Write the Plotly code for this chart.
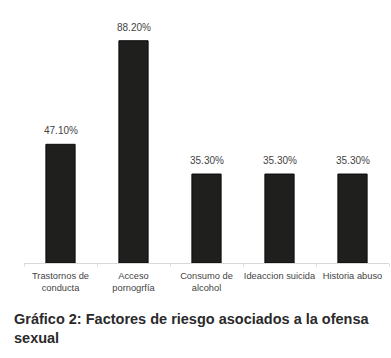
import plotly.graph_objects as go

categories = ["Trastornos de<br>conducta", "Acceso<br>pornogrfía", "Consumo de<br>alcohol",
              "Ideaccion suicida", "Historia abuso"]
values = [47.1, 88.2, 35.3, 35.3, 35.3]
value_labels = ["47.10%", "88.20%", "35.30%", "35.30%", "35.30%"]

W, H = 391, 358

fig = go.Figure()
fig.add_trace(go.Bar(
    x=categories, y=values,
    marker=dict(color="#1f1f1d", line=dict(color="#0a0a0a", width=1)),
    width=0.4,
    hoverinfo="skip",
))

for c, v, t in zip(categories, values, value_labels):
    fig.add_annotation(x=c, y=v, text=t, showarrow=False, yanchor="bottom",
                       yshift=6, font=dict(family="Liberation Sans, Arial", size=10, color="#444"))

fig.add_annotation(
    xref="paper", yref="paper", x=-12/365, y=-(328-263)/252,
    xanchor="left", yanchor="middle", align="left", showarrow=False,
    text="<b>Gráfico 2: Factores de riesgo asociados a la ofensa<br>sexual</b>",
    font=dict(family="Liberation Sans, Arial", size=14.5, color="#2a2a2a"),
)

fig.update_layout(
    width=W, height=H,
    margin=dict(l=24, r=2, t=11, b=95, autoexpand=False),
    paper_bgcolor="white", plot_bgcolor="white",
    showlegend=False,
    xaxis=dict(showline=True, linecolor="#d8d8d8", linewidth=1, automargin=False,
               tickangle=0,
               ticks="outside", tickson="boundaries", ticklen=3, tickcolor="#e0e0e0",
               ticklabelstandoff=4,
               tickfont=dict(family="Liberation Sans, Arial", size=9.3, color="#444"),
               showgrid=False),
    yaxis=dict(range=[0, 100], visible=False, showgrid=False),
)

fig.write_html("out.html", config={"displayModeBar": False},
               post_script="document.body.style.margin='0';document.body.style.overflow='hidden';")
